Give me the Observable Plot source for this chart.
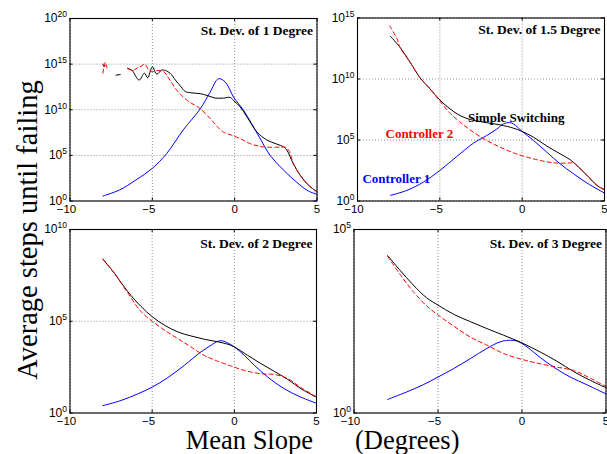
<!DOCTYPE html>
<html><head><meta charset="utf-8">
<script src="https://cdn.jsdelivr.net/npm/d3@7"></script>
<script src="https://cdn.jsdelivr.net/npm/@observablehq/plot@0.6"></script>
<style>
html,body{margin:0;padding:0;background:#fff;}
#wrap{position:relative;width:607px;height:454px;overflow:hidden;background:#fff;}
</style></head><body><div id="wrap"></div>
<script>
// ---- shared axis values ----
const xTicks = [-10, -5, 0, 5];
const xDomain = [-10, 5];

// ---- Panel 1 : St. Dev. of 1 Degree (values are log10 of average steps) ----
const p1Title = "St. Dev. of 1 Degree";
const p1BlueX = [-8, -7, -6, -5, -4.13, -3.12, -2.09, -1.5, -0.98, -0.57, -0.07, 0.54, 1.5, 2.15, 2.96, 3.97, 4.47, 5];
const p1BlueLog = [0.55, 1.2, 2.3, 3.58, 5.2, 7.8, 10.1, 11.9, 13.4, 13.03, 11.4, 9.93, 7.0, 5.0, 3.4, 1.75, 1.1, 0.73];
const p1BlackX = [-8.0, -7.93, -7.85, -7.6, -7.2, -6.95, -6.7, -6.5, -6.25, -5.8, -5.48, -5.28, -5.0, -4.73, -4.43, -4.2, -3.92, -3.6, -3.25, -3.0, -2.6, -2.09, -1.68, -1.18, -0.68, -0.27, -0.07, 0.34, 0.75, 1.36, 1.94, 2.55, 2.96, 3.16, 3.56, 3.97, 4.47, 5];
const p1BlackLog = [15.0, 14.7, 14.85, null, 13.8, 13.85, null, 14.5, 14.35, 13.25, 14.0, 13.5, 14.7, 13.9, 14.35, 14.3, 14.0, 13.25, 12.5, 12.0, 11.85, 11.76, 11.57, 11.28, 11.28, 11.35, 11.02, 10.3, 9.2, 7.55, 6.7, 6.24, 5.95, 5.6, 4.1, 2.85, 1.75, 1.0];
const p1RedX = [-8.0, -7.93, -7.85, -7.75, -7.0, -6.5, -6.2, -5.9, -5.74, -5.44, -5.24, -5.0, -4.7, -4.33, -3.93, -3.52, -2.9, -2.09, -1.38, -1.08, -0.68, -0.16, 0.34, 0.95, 1.5, 1.94, 2.75, 3.06, 3.3, 3.56, 3.97, 4.47, 5];
const p1RedLog = [14.0, 14.8, 15.2, 14.6, null, 14.55, 14.3, 14.6, 14.7, 15.0, 14.4, 14.2, 14.3, 14.2, 13.25, 12.15, 11.05, 10.1, 8.83, 8.2, 7.55, 7.2, 6.83, 6.28, 6.0, 5.9, 5.9, 5.9, 5.5, 4.1, 2.85, 1.75, 1.0];

// ---- Panel 2 : St. Dev. of 1.5 Degree ----
const p2Title = "St. Dev. of 1.5 Degree";
const p2BlackX = [-8, -7.42, -6.8, -6.2, -5.6, -5, -4.38, -3.77, -3.16, -2.35, -1.34, -0.53, 0, 0.69, 1.5, 2.3, 2.92, 3.33, 3.94, 4.54, 5];
const p2BlackLog = [13.5, 12.6, 11.36, 10.1, 9.2, 8.28, 7.55, 7.0, 6.68, 6.46, 6.24, 5.97, 5.7, 5.23, 4.5, 3.87, 3.38, 2.9, 2.1, 1.28, 0.93];
const p2RedX = [-8.05, -7.6, -7.42, -6.8, -6.2, -5.6, -5, -4.38, -3.77, -2.96, -2.15, -1.34, -0.53, 0.28, 1.1, 1.9, 2.7, 3.1, 3.33, 3.94, 4.54, 5];
const p2RedLog = [14.36, 13.3, 12.6, 11.36, 10.1, 9.2, 8.2, 7.2, 6.46, 5.64, 4.96, 4.41, 3.95, 3.6, 3.32, 3.13, 3.1, 3.12, 2.9, 2.1, 1.28, 0.93];
const p2BlueX = [-8, -7, -6, -5, -3.97, -2.96, -2.15, -1.54, -1.14, -0.77, -0.53, 0, 0.69, 1.5, 2.3, 3.12, 3.94, 5];
const p2BlueLog = [0.46, 0.87, 1.55, 2.5, 3.65, 4.74, 5.37, 5.9, 6.32, 6.43, 6.32, 5.7, 4.96, 4.0, 3.05, 2.23, 1.47, 0.65];
const p2Labels = ["Simple Switching", "Controller 2", "Controller 1"];
const p2LabelX = [-3.29, -8.3, -9.7];
const p2LabelLog = [6.84, 5.53, 1.84];
const p2LabelColors = ["#000000", "#ff0000", "#0000ff"];

// ---- Panel 3 : St. Dev. of 2 Degree ----
const p3Title = "St. Dev. of 2 Degree";
const p3BlackX = [-8, -7.3, -6.49, -5.67, -5, -4.26, -3.45, -2.64, -1.83, -1.01, -0.41, 0, 0.81, 1.62, 2.43, 3.25, 4.06, 5];
const p3BlackLog = [8.39, 7.62, 6.62, 5.8, 5.25, 4.79, 4.42, 4.2, 4.02, 3.88, 3.75, 3.6, 3.14, 2.69, 2.27, 1.83, 1.32, 0.86];
const p3RedX = [-8, -7.3, -6.49, -5.67, -5, -4.26, -3.45, -2.64, -1.83, -1.01, -0.2, 0.61, 1.62, 2.43, 3.25, 4.06, 5];
const p3RedLog = [8.39, 7.62, 6.55, 5.52, 5.0, 4.52, 4.06, 3.6, 3.14, 2.82, 2.56, 2.32, 2.14, 2.1, 1.88, 1.38, 0.88];
const p3BlueX = [-8, -6.9, -5.88, -5, -4.06, -3.04, -2.03, -1.42, -1.01, -0.71, -0.41, 0, 0.61, 1.22, 2.03, 3.04, 4.06, 5];
const p3BlueLog = [0.4, 0.68, 1.04, 1.41, 1.92, 2.6, 3.33, 3.69, 3.91, 3.93, 3.82, 3.6, 3.14, 2.6, 1.96, 1.32, 0.86, 0.53];

// ---- Panel 4 : St. Dev. of 3 Degree ----
const p4Title = "St. Dev. of 3 Degree";
const p4BlackX = [-8, -7.28, -6.48, -5.68, -5, -4.07, -3.08, -2.09, -1.1, 0, 1.09, 2.08, 3.07, 4.06, 5];
const p4BlackLog = [4.29, 3.9, 3.49, 3.14, 2.94, 2.69, 2.49, 2.3, 2.12, 1.91, 1.66, 1.41, 1.13, 0.89, 0.69];
const p4RedX = [-8, -7.28, -6.48, -5.68, -5, -4.07, -3.08, -2.09, -1.1, 0, 1.09, 2.08, 3.07, 4.06, 5];
const p4RedLog = [4.27, 3.79, 3.31, 2.92, 2.67, 2.37, 2.07, 1.85, 1.62, 1.46, 1.34, 1.25, 1.16, 0.95, 0.72];
const p4BlueX = [-8, -6.88, -5.88, -5, -4.07, -3.08, -2.09, -1.3, -0.8, -0.3, 0.3, 1.09, 1.88, 2.87, 3.86, 5];
const p4BlueLog = [0.37, 0.57, 0.77, 0.98, 1.21, 1.48, 1.76, 1.94, 1.98, 1.96, 1.8, 1.51, 1.25, 0.98, 0.77, 0.52];

// ---- axis titles ----
const yLabel = "Average steps until failing";
const xLabelLeft = "Mean Slope";
const xLabelRight = "(Degrees)";

// ---------------------------------------------------------------
const table = (xs, logs) => xs.map((x, i) => ({x, y: logs[i] == null ? null : Math.pow(10, logs[i])}));
const wrap = document.getElementById("wrap");
const NS = "http://www.w3.org/2000/svg";

function panel(o) {
  const W = o.width - o.ml - o.mr, H = o.height - o.mt - o.mb, T = 3;
  const lines = [
    {d: table(o.blueX, o.blueLog), stroke: "#0000ff"},
    {d: table(o.blackX, o.blackLog), stroke: "#000000"},
    {d: table(o.redX, o.redLog), stroke: "#ff0000", dash: "4,3"}
  ];
  const marks = [
    Plot.gridX(xTicks, {stroke: "#000", strokeOpacity: 0.45, strokeDasharray: "1,2"}),
    Plot.gridY(o.yTicks, {stroke: "#000", strokeOpacity: 0.45, strokeDasharray: "1,2"}),
    ...lines.map(l => Plot.line(l.d, {x: "x", y: "y", stroke: l.stroke, strokeWidth: 1, strokeDasharray: l.dash, curve: "catmull-rom"})),
    // Matlab-style inward ticks on all four sides
    Plot.tickY(o.yTicks, {y: d => d, insetRight: W - T, stroke: "#000"}),
    Plot.tickY(o.yTicks, {y: d => d, insetLeft: W - T, stroke: "#000"}),
    Plot.tickX(xTicks, {x: d => d, insetTop: H - T, stroke: "#000"}),
    Plot.tickX(xTicks, {x: d => d, insetBottom: H - T, stroke: "#000"}),
    Plot.frame({stroke: "#000", strokeWidth: 1.1}),
    Plot.axisX({ticks: xTicks, tickSize: 0, tickPadding: 3.5, fontSize: 11.5, label: null}),
    Plot.axisY({ticks: o.yTicks, tickSize: 0, tickPadding: 3, fontSize: 12, label: null, tickFormat: d => String(Math.round(Math.log10(d)))}),
    Plot.text([o.title], {frameAnchor: "top-right", textAnchor: "end", lineAnchor: "middle", dx: -4, dy: o.titleDy, fontFamily: "Liberation Serif", fontWeight: "bold", fontSize: 13.5, fill: "#000"})
  ];
  if (o.labels) {
    const ld = o.labels.map((t, i) => ({t, x: o.labelX[i], y: Math.pow(10, o.labelLog[i]), c: o.labelColors[i]}));
    marks.push(Plot.text(ld, {x: "x", y: "y", text: "t", fill: "c", textAnchor: "start", lineAnchor: "middle", fontFamily: "Liberation Serif", fontWeight: "bold", fontSize: 13}));
  }
  const svg = Plot.plot({
    width: o.width, height: o.height,
    marginLeft: o.ml, marginRight: o.mr, marginTop: o.mt, marginBottom: o.mb,
    x: {domain: xDomain, label: null},
    y: {type: "log", domain: [1, o.yMax], label: null},
    style: {position: "absolute", left: o.left + "px", top: o.top + "px", background: "transparent", fontFamily: "'Liberation Sans', Arial, sans-serif", fontSize: "12px", overflow: "visible"},
    marks
  });
  svg.querySelectorAll('g[aria-label="y-axis tick label"] text').forEach(t => {
    const e = t.textContent;
    t.textContent = "";
    const b = document.createElementNS(NS, "tspan"); b.textContent = "10";
    const s = document.createElementNS(NS, "tspan"); s.setAttribute("dy", "-0.6em"); s.setAttribute("font-size", "8.5"); s.textContent = e;
    t.append(b, s);
  });
  // Matlab centres the digits on the tick; the minus sign hangs to the left
  svg.querySelectorAll('g[aria-label="x-axis tick label"] text').forEach(t => {
    if (/^[−-]/.test(t.textContent)) t.setAttribute("dx", "-3.5");
  });
  wrap.appendChild(svg);
}

panel({left: 0, top: 0, width: 330, height: 216, ml: 69.5, mr: 13.5, mt: 18, mb: 15.5, yMax: 1e20, yTicks: [1, 1e5, 1e10, 1e15, 1e20], title: p1Title, titleDy: 12,
  blueX: p1BlueX, blueLog: p1BlueLog, blackX: p1BlackX, blackLog: p1BlackLog, redX: p1RedX, redLog: p1RedLog});
panel({left: 330, top: 0, width: 277, height: 216, ml: 27, mr: 3, mt: 17.5, mb: 15.5, yMax: 1e15, yTicks: [1, 1e5, 1e10, 1e15], title: p2Title, titleDy: 12,
  blueX: p2BlueX, blueLog: p2BlueLog, blackX: p2BlackX, blackLog: p2BlackLog, redX: p2RedX, redLog: p2RedLog,
  labels: p2Labels, labelX: p2LabelX, labelLog: p2LabelLog, labelColors: p2LabelColors});
panel({left: 0, top: 216, width: 330, height: 238, ml: 69.5, mr: 14, mt: 13, mb: 41.5, yMax: 1e10, yTicks: [1, 1e5, 1e10], title: p3Title, titleDy: 14,
  blueX: p3BlueX, blueLog: p3BlueLog, blackX: p3BlackX, blackLog: p3BlackLog, redX: p3RedX, redLog: p3RedLog});
panel({left: 330, top: 216, width: 277, height: 238, ml: 23.5, mr: 1.5, mt: 13, mb: 41.5, yMax: 1e5, yTicks: [1, 1e5], title: p4Title, titleDy: 14,
  blueX: p4BlueX, blueLog: p4BlueLog, blackX: p4BlackX, blackLog: p4BlackLog, redX: p4RedX, redLog: p4RedLog});

// axis titles overlay
const ov = d3.select(wrap).append("svg").attr("width", 607).attr("height", 454)
  .style("position", "absolute").style("left", "0px").style("top", "0px").style("pointer-events", "none")
  .attr("font-family", "'Liberation Serif', 'Times New Roman', serif");
ov.append("text").attr("transform", "translate(37,230) rotate(-90)").attr("text-anchor", "middle")
  .attr("font-size", 28.5).attr("fill", "#000").text(yLabel);
ov.append("text").attr("x", 313).attr("y", 449).attr("text-anchor", "end").attr("font-size", 26.5).attr("fill", "#000").text(xLabelLeft);
ov.append("text").attr("x", 355).attr("y", 449).attr("text-anchor", "start").attr("font-size", 26.5).attr("fill", "#000").text(xLabelRight);
</script></body></html>
